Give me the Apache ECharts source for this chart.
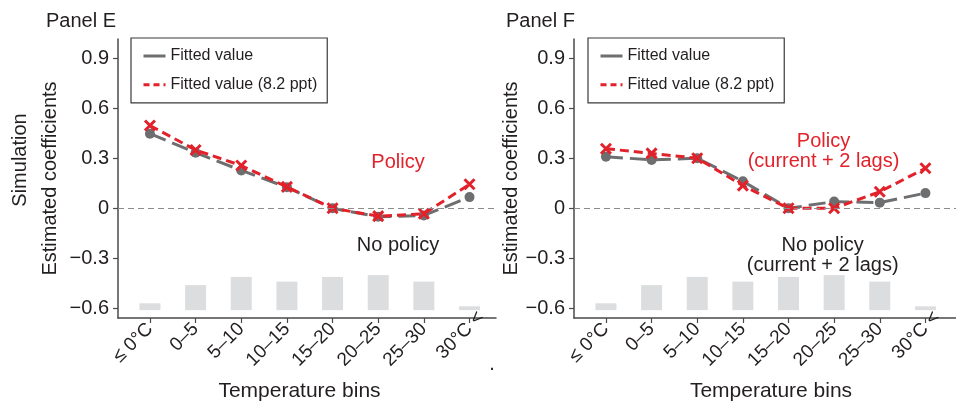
<!DOCTYPE html>
<html>
<head>
<meta charset="utf-8">
<script src="https://cdn.jsdelivr.net/npm/echarts@6/dist/echarts.min.js"></script>
<style>
  html, body { margin: 0; padding: 0; background: #fff; }
  #chart { width: 956px; height: 407px; }
</style>
</head>
<body>
<div id="chart"></div>
<script>
// Temperature bins on the x axis
const bins = ['≤ 0°C', '0–5', '5–10', '10–15', '15–20', '20–25', '25–30', '30°C <'];

// Panel E: simulated coefficients
const noPolicyE = [0.447, 0.333, 0.227, 0.126, 0, -0.051, -0.043, 0.067];
const policyE   = [0.496, 0.349, 0.256, 0.128, 0, -0.047, -0.033, 0.144];

// Panel F: current + 2 lags
const noPolicyF = [0.309, 0.290, 0.300, 0.162, 0, 0.040, 0.034, 0.091];
const policyF   = [0.357, 0.329, 0.300, 0.136, 0, 0.000, 0.099, 0.240];

// Distribution of days across bins (drawn as grey bars at the bottom)
const binShareTop = [-0.569, -0.460, -0.411, -0.439, -0.411, -0.400, -0.439, -0.587];
const binShareBase = -0.61;

// Y tick values
const yTicks = [-0.6, -0.3, 0, 0.3, 0.6, 0.9];

const FONT = '"Liberation Sans", Arial, Helvetica, sans-serif';
const INK = '#231f20';
const GREY = '#6d6e70';
const RED = '#e2222b';
const BAR = '#dcdddf';
const AXIS = '#4a4a4a';

const crossPath = 'path://M0,0L10,10M10,0L0,10';

function fmtY(v) {
  if (Math.abs(v) < 1e-9) return '0';
  return (v < 0 ? '\u2212' : '') + Math.abs(v).toFixed(1);
}

function makeGrid(left, width) {
  return { left: left, top: 39, width: width, height: 283, containLabel: false };
}

function makeXAxis(gridIndex, max, namePad) {
  return {
    type: 'value', gridIndex: gridIndex, min: -0.7, max: max,
    name: 'Temperature bins', nameLocation: 'middle', nameGap: 63,
    nameTextStyle: { fontFamily: FONT, fontSize: 21, color: INK, padding: namePad },
    axisLine: { show: true, onZero: false, lineStyle: { color: AXIS, width: 1.5 } },
    axisTick: { show: true, length: 5, customValues: bins.map((_, i) => i), lineStyle: { color: AXIS, width: 1.2 } },
    splitLine: { show: false },
    axisLabel: {
      customValues: bins.map((_, i) => i),
      rotate: 45, margin: 8,
      fontFamily: FONT, fontSize: 19, color: INK,
      formatter: function (v) {
        const i = Math.round(v);
        // the trailing "<" of the last bin hangs past the tick
        if (i === bins.length - 1) return '{a|30°C}{b| <}';
        return bins[i];
      },
      rich: {
        a: { fontFamily: FONT, fontSize: 19, color: INK, align: 'left' },
        b: { fontFamily: FONT, fontSize: 19, color: INK, width: 0, align: 'left' }
      }
    }
  };
}

function makeYAxis(gridIndex, nameGap) {
  return {
    type: 'value', gridIndex: gridIndex, min: -0.657, max: 1.014,
    name: 'Estimated coefficients', nameLocation: 'middle', nameGap: nameGap,
    nameTextStyle: { fontFamily: FONT, fontSize: 20, color: INK },
    axisLine: { show: true, onZero: false, lineStyle: { color: AXIS, width: 1.5 } },
    axisTick: { show: true, length: 5, customValues: yTicks, lineStyle: { color: AXIS, width: 1.2 } },
    splitLine: { show: false },
    axisLabel: { customValues: yTicks, margin: 9, fontFamily: FONT, fontSize: 20, color: INK, formatter: fmtY }
  };
}

function barSeries(idx) {
  return {
    type: 'custom', xAxisIndex: idx, yAxisIndex: idx,
    data: binShareTop.map((v, i) => [i, v]),
    silent: true,
    renderItem: function (params, api) {
      const x = api.value(0);
      const top = api.coord([x, api.value(1)]);
      const base = api.coord([x, binShareBase]);
      const w = api.size([0.46, 0])[0];
      return {
        type: 'rect',
        shape: { x: top[0] - w / 2, y: top[1], width: w, height: base[1] - top[1] },
        style: { fill: BAR }
      };
    },
    markLine: {
      silent: true, symbol: 'none', animation: false,
      label: { show: false },
      lineStyle: { color: '#8c8c8c', type: [6, 4], width: 1 },
      data: [{ yAxis: 0 }]
    },
    z: 1
  };
}

function greySeries(idx, values) {
  return {
    name: 'Fitted value', type: 'line', xAxisIndex: idx, yAxisIndex: idx,
    data: values.map((v, i) => [i, v]),
    symbol: 'circle', symbolSize: 10,
    itemStyle: { color: GREY },
    lineStyle: { color: GREY, width: 3, type: [17, 7] },
    z: 3, animation: false
  };
}

function redSeries(idx, values) {
  return {
    name: 'Fitted value (8.2 ppt)', type: 'line', xAxisIndex: idx, yAxisIndex: idx,
    data: values.map((v, i) => [i, v]),
    symbol: crossPath, symbolSize: 10,
    itemStyle: { color: 'none', borderColor: RED, borderWidth: 3 },
    lineStyle: { color: RED, width: 3, type: [9, 5] },
    z: 4, animation: false
  };
}

function makeLegend(left) {
  return {
    left: left, top: 38, orient: 'vertical',
    itemWidth: 22, itemHeight: 14, itemGap: 12.7,
    padding: [10, 10, 10, 11],
    borderColor: '#3a3a3a', borderWidth: 1.2, backgroundColor: '#fff',
    textStyle: { fontFamily: FONT, fontSize: 16, color: INK },
    selectedMode: false,
    data: [
      { name: 'Fitted value', itemStyle: { opacity: 0 }, lineStyle: { color: GREY, width: 3, type: 'solid' } },
      { name: 'Fitted value (8.2 ppt)', itemStyle: { opacity: 0 }, lineStyle: { color: RED, width: 3, type: [6, 4] } }
    ]
  };
}

function txt(x, y, text, color, extra) {
  return Object.assign({
    type: 'text', x: x, y: y,
    style: { text: text, fill: color, font: '20px ' + FONT, align: 'center', verticalAlign: 'middle', lineHeight: 20 }
  }, extra || {});
}

const chart = echarts.init(document.getElementById('chart'), null, { renderer: 'canvas' });

chart.setOption({
  animation: false,
  backgroundColor: '#fff',
  grid: [makeGrid(118, 378), makeGrid(574, 382)],
  xAxis: [makeXAxis(0, 7.58, [0, 15, 0, 0]), makeXAxis(1, 7.67, [0, 0, 0, 12])],
  yAxis: [makeYAxis(0, 58), makeYAxis(1, 47)],
  legend: [makeLegend(131), makeLegend(588)],
  series: [
    barSeries(0), greySeries(0, noPolicyE), redSeries(0, policyE),
    barSeries(1), greySeries(1, noPolicyF), redSeries(1, policyF)
  ],
  graphic: [
    txt(46, 21.5, 'Panel E', INK, { style: { text: 'Panel E', fill: INK, font: '20px ' + FONT, align: 'left', verticalAlign: 'middle' } }),
    txt(506, 21.5, 'Panel F', INK, { style: { text: 'Panel F', fill: INK, font: '20px ' + FONT, align: 'left', verticalAlign: 'middle' } }),
    txt(20.5, 160, 'Simulation', INK, { rotation: Math.PI / 2 }),
    txt(398, 162.7, 'Policy', RED),
    txt(398, 245.7, 'No policy', INK),
    txt(823.5, 151.7, 'Policy\n(current + 2 lags)', RED),
    txt(822.7, 255.7, 'No policy\n(current + 2 lags)', INK),
    txt(492, 364, '.', INK)
  ]
});
</script>
</body>
</html>
